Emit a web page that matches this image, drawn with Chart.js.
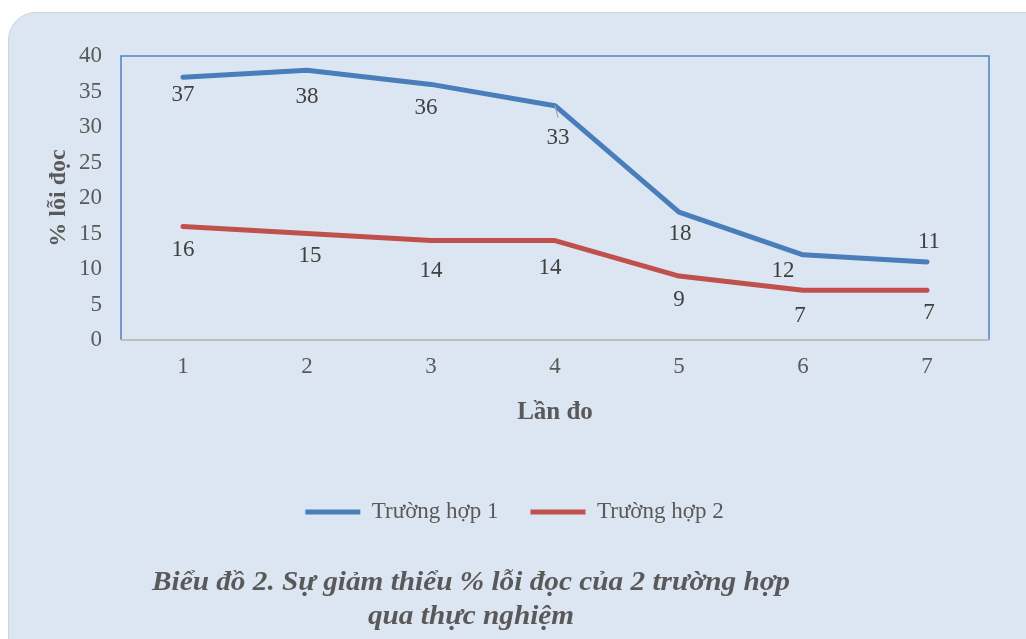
<!DOCTYPE html>
<html>
<head>
<meta charset="utf-8">
<script src="https://cdn.jsdelivr.net/npm/chart.js@4.4.0/dist/chart.umd.min.js"></script>
<style>
    html, body { margin: 0; padding: 0; background: #ffffff; }
    #wrap { position: relative; width: 1026px; height: 639px; overflow: hidden; }
    #panel {
        position: absolute; left: 8px; top: 12px; width: 1100px; height: 700px;
        background: #dce6f2; border: 1.5px solid #d2d2d2; border-radius: 28px;
    }
    #errorChart { position: absolute; left: 0; top: 0; }
</style>
</head>
<body>
<div id="wrap">
    <div id="panel"></div>
    <canvas id="errorChart" width="1026" height="639"></canvas>
</div>
<script>
const categories = ['1', '2', '3', '4', '5', '6', '7'];
const seriesNames = ['Trường hợp 1', 'Trường hợp 2'];
const case1 = [37, 38, 36, 33, 18, 12, 11];
const case2 = [16, 15, 14, 14, 9, 7, 7];
const yMin = 0, yMax = 40, yStep = 5;
const xTitle = 'Lần đo';
const yTitle = '% lỗi đọc';
const captionLines = ['Biểu đồ 2. Sự giảm thiểu % lỗi đọc của 2 trường hợp', 'qua thực nghiệm'];

// label nudges relative to each point (px), like the hand-placed labels in the original
const shift1 = [[0, 18], [0, 27], [-5, 24], [3, 32], [1, 22], [-20, 16], [2, -20]];
const shift2 = [[0, 24], [3, 22], [0, 30], [-5, 27], [0, 24], [-3, 26], [2, 23]];

const serif = '"Liberation Serif", "Times New Roman", serif';
const grey = '#595959';

// frame round the plot area: blue sides, grey bottom axis line
const plotFrame = {
    id: 'plotFrame',
    beforeDatasetsDraw(chart) {
        const a = chart.chartArea;
        const ctx = chart.ctx;
        ctx.save();
        ctx.strokeStyle = '#4f81bd';
        ctx.lineWidth = 1.5;
        ctx.beginPath();
        ctx.moveTo(a.left, a.bottom);
        ctx.lineTo(a.left, a.top);
        ctx.lineTo(a.right, a.top);
        ctx.lineTo(a.right, a.bottom);
        ctx.stroke();
        ctx.strokeStyle = '#bfbfbf';
        ctx.lineWidth = 2;
        ctx.beginPath();
        ctx.moveTo(a.left, a.bottom);
        ctx.lineTo(a.right, a.bottom);
        ctx.stroke();
        ctx.restore();
    }
};

const pointLabels = {
    id: 'pointLabels',
    afterDatasetsDraw(chart) {
        const ctx = chart.ctx;
        ctx.save();
        ctx.font = '23px ' + serif;
        ctx.fillStyle = '#404040';
        ctx.textAlign = 'center';
        ctx.textBaseline = 'middle';
        chart.data.datasets.forEach((ds, i) => {
            chart.getDatasetMeta(i).data.forEach((pt, j) => {
                const s = ds.labelShift[j];
                if (s[1] > 30) {
                    // leader line for the label pushed further away
                    ctx.strokeStyle = '#a6a6a6';
                    ctx.lineWidth = 1.2;
                    ctx.beginPath();
                    ctx.moveTo(pt.x, pt.y);
                    ctx.lineTo(pt.x + 3, pt.y + 12);
                    ctx.stroke();
                }
                ctx.fillText(String(ds.data[j]), pt.x + s[0], pt.y + s[1]);
            });
        });
        ctx.restore();
    }
};

const caption = {
    id: 'caption',
    afterDraw(chart) {
        const ctx = chart.ctx;
        ctx.save();
        ctx.font = 'italic bold 27px ' + serif;
        ctx.fillStyle = grey;
        ctx.textAlign = 'center';
        ctx.textBaseline = 'middle';
        const squeeze = 638 / ctx.measureText(captionLines[0]).width;
        ctx.translate(471, 0);
        ctx.scale(squeeze, 1);
        ctx.fillText(captionLines[0], 0, 583);
        ctx.fillText(captionLines[1], 0, 617);
        ctx.restore();
    }
};

const data = {
    labels: categories,
    datasets: [{
        label: seriesNames[0],
        data: case1,
        labelShift: shift1,
        borderColor: '#4a7ebb',
        backgroundColor: '#4a7ebb',
        borderWidth: 5,
        borderCapStyle: 'round',
        borderJoinStyle: 'round',
        pointRadius: 0,
        pointStyle: 'line',
        tension: 0
    }, {
        label: seriesNames[1],
        data: case2,
        labelShift: shift2,
        borderColor: '#c0504d',
        backgroundColor: '#c0504d',
        borderWidth: 5,
        borderCapStyle: 'round',
        borderJoinStyle: 'round',
        pointRadius: 0,
        pointStyle: 'line',
        tension: 0
    }]
};

const options = {
    responsive: false,
    animation: false,
    layout: {
        padding: { left: 40, top: 56, right: 37, bottom: 105.5 }
    },
    plugins: {
        tooltip: { enabled: false },
        legend: {
            position: 'bottom',
            labels: {
                usePointStyle: true,
                pointStyleWidth: 55,
                color: grey,
                font: { family: serif, size: 23 },
                padding: 32
            }
        }
    },
    scales: {
        x: {
            offset: true,
            grid: { display: false, drawTicks: false },
            border: { display: false },
            ticks: { color: grey, font: { family: serif, size: 23 }, padding: 13, maxRotation: 0 },
            title: {
                display: true,
                text: xTitle,
                color: grey,
                font: { family: serif, size: 25, weight: 'bold' },
                padding: { top: 0, bottom: 40.5 }
            },
            afterFit: (scale) => { scale.height = 128.5; }
        },
        y: {
            min: yMin,
            max: yMax,
            grid: { display: false, drawTicks: false },
            border: { display: false },
            ticks: { stepSize: yStep, color: grey, font: { family: serif, size: 23 }, padding: 19 },
            title: {
                display: true,
                text: yTitle,
                color: grey,
                font: { family: serif, size: 24, weight: 'bold' },
                padding: { top: 4, bottom: 4 }
            },
            afterFit: (scale) => { scale.width = 81; }
        }
    }
};

const ctx = document.getElementById('errorChart');
if (ctx) {
    new Chart(ctx, {
        type: 'line',
        data: data,
        options: options,
        plugins: [plotFrame, pointLabels, caption]
    });
} else {
    console.error("Canvas element not found");
}
</script>
</body>
</html>
